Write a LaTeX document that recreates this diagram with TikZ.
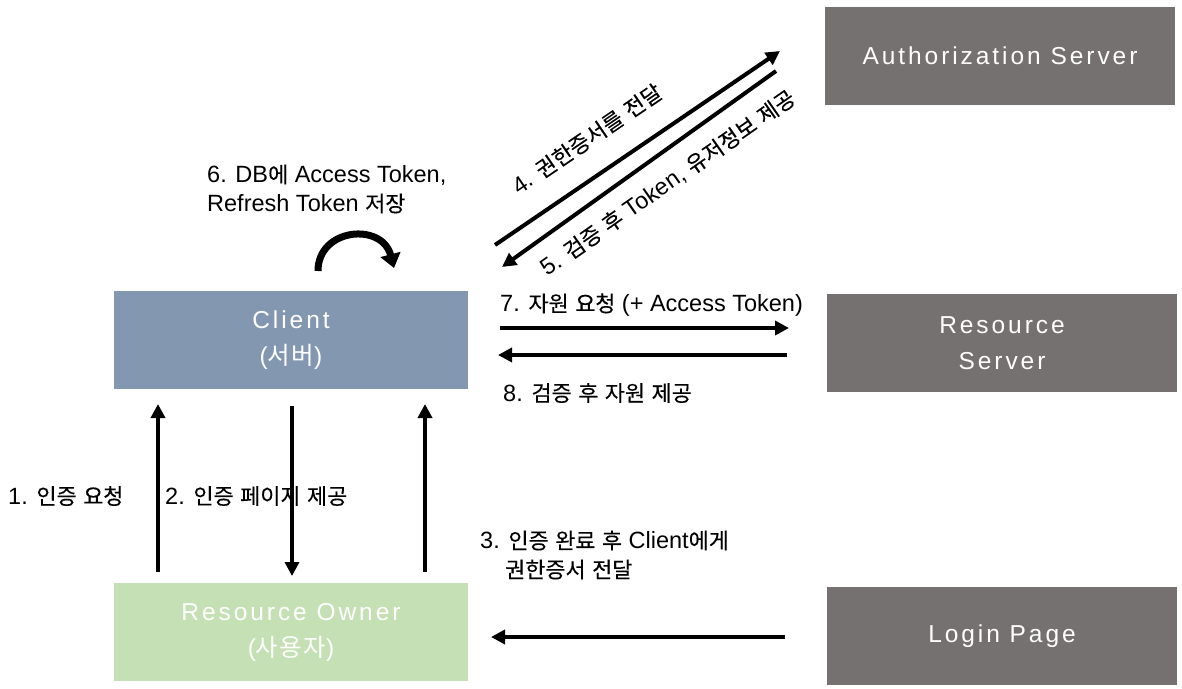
\documentclass[tikz,border=0pt]{standalone}
\usepackage{fontspec}
\setmainfont{Liberation Sans}
\newfontfamily\krfont{Noto Sans CJK KR}[Scale=0.93,FakeBold=0.3]
\newfontfamily\boxlatin{Liberation Sans}[LetterSpace=12]
\newfontfamily\boxkr{Noto Sans CJK KR}[Scale=1.0,LetterSpace=5]
% font switches used around Hangul runs; box text redefines them
\newcommand\hangulon{\krfont}
\newcommand\hanguloff{\normalfont}
\XeTeXinterchartokenstate=1
\newXeTeXintercharclass\hangulclass
\count255="AC00
\loop
  \XeTeXcharclass\count255=\hangulclass
  \ifnum\count255<"D7A3 \advance\count255 by 1
\repeat
\XeTeXinterchartoks 0 \hangulclass = {\hangulon}
\XeTeXinterchartoks 4095 \hangulclass = {\hangulon}
\XeTeXinterchartoks \hangulclass 0 = {\hanguloff}
\XeTeXinterchartoks \hangulclass 4095 = {\hanguloff}
\usetikzlibrary{arrows.meta,calc}
\definecolor{srvgray}{HTML}{767171}
\definecolor{clientblue}{HTML}{8497B0}
\definecolor{ownergreen}{HTML}{C5E0B4}
\begin{document}
\begin{tikzpicture}[x=1pt,y=-1pt,
  box/.style={minimum width=350pt,minimum height=98pt,inner sep=0pt,
    text=white,align=center,
    font={\def\hangulon{\boxkr}\def\hanguloff{\boxlatin}\boxlatin\fontsize{24.5}{36}\selectfont}},
  lbl/.style={font=\fontsize{23.5}{29}\selectfont,text=black,inner sep=0pt},
  flow/.style={line width=4pt,-{Triangle[length=14pt,width=14pt]}},
  loop/.style={line width=7pt,-{Triangle[length=14pt,width=20pt]}}]
\useasboundingbox (0,0) rectangle (1182,688);

% boxes
\node[box,fill=srvgray] (auth) at (1000,56) {Authorization Server};
\node[box,fill=srvgray] (rs) at (1002,343) {Resource\\Server};
\node[box,fill=srvgray] (login) at (1002,636) {Login Page};
\node[box,fill=clientblue,minimum width=354pt] (client) at (291,340) {Client\\(서버)};
\node[box,fill=ownergreen,minimum width=354pt] (owner) at (291,632) {Resource Owner\\(사용자)};

% arrow end points
\coordinate (a1s) at (158,572); \coordinate (a1e) at (158,404);
\coordinate (a2s) at (292,406); \coordinate (a2e) at (292,576);
\coordinate (a3s) at (425,572); \coordinate (a3e) at (425,404);
\coordinate (a4s) at (495,245); \coordinate (a4e) at (780,51);
\coordinate (a5s) at (776,71);  \coordinate (a5e) at (502,267);
\coordinate (a7s) at (500,328); \coordinate (a7e) at (789,328);
\coordinate (a8s) at (787,355); \coordinate (a8e) at (498,355);
\coordinate (a9s) at (785,637); \coordinate (a9e) at (491,637);
\coordinate (l0) at (318,271); \coordinate (l1) at (394,268);

% connectors
\draw[flow] (a1s) -- (a1e);
\draw[flow] (a2s) -- (a2e);
\draw[flow] (a3s) -- (a3e);
\draw[flow] (a4s) -- (a4e);
\draw[flow] (a5s) -- (a5e);
\draw[flow] (a7s) -- (a7e);
\draw[flow] (a8s) -- (a8e);
\draw[flow] (a9s) -- (a9e);
\draw[loop] (l0) .. controls (318,228) and (382,222) .. (l1);

% labels
\node[lbl,anchor=west] (t1) at (8,496) {1. 인증 요청};
\node[lbl,anchor=west] (t2) at (165,496) {2. 인증 페이지 제공};
\node[lbl,anchor=west,align=left] (t3) at (480,555) {3. 인증 완료 후 Client에게\\\hspace*{25pt}권한증서 전달};
\node[lbl,rotate=34.3] (t4) at (587,139) {4. 권한증서를 전달};
\node[lbl,rotate=35] (t5) at (668,183) {5. 검증 후 Token, 유저정보 제공};
\node[lbl,anchor=west,align=left] (t6) at (207,189) {6. DB에 Access Token,\\Refresh Token 저장};
\node[lbl,anchor=west] (t7) at (500,305) {7. 자원 요청 (+ Access Token)};
\node[lbl,anchor=west] (t8) at (503,393) {8. 검증 후 자원 제공};
\end{tikzpicture}
\end{document}
